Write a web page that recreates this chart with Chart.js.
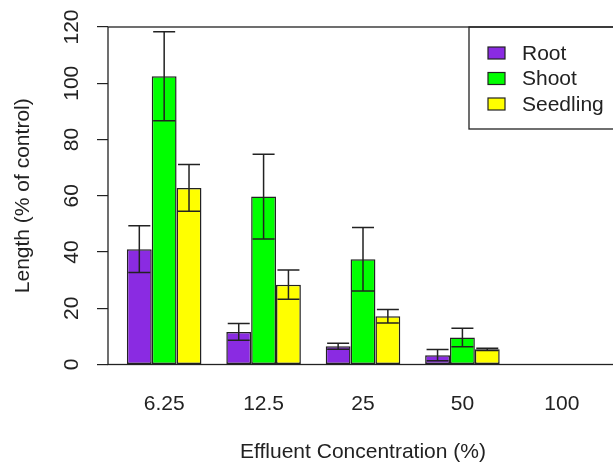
<!DOCTYPE html>
<html>
<head>
<meta charset="utf-8">
<script src="https://cdn.jsdelivr.net/npm/chart.js@4/dist/chart.umd.min.js"></script>
<style>
  html, body { margin: 0; padding: 0; background: #fff; overflow: hidden; }
  .wrap { width: 613px; height: 465px; overflow: hidden; }
  .box { position: relative; width: 625px; height: 465px; }
</style>
</head>
<body>
<div class="wrap"><div class="box"><canvas id="lengthChart"></canvas></div></div>
<script>
const categories = ["6.25", "12.5", "25", "50", "100"];
const seriesNames = ["Root", "Shoot", "Seedling"];
const rootMean = [41.0, 11.6, 6.5, 3.3, 0];
const rootErr = [8.3, 3.0, 1.1, 2.0, 0];
const shootMean = [102.5, 59.7, 37.4, 9.6, 0];
const shootErr = [15.8, 15.1, 11.3, 3.3, 0];
const seedlingMean = [62.8, 28.4, 17.2, 5.4, 0];
const seedlingErr = [8.3, 5.2, 2.4, 0.4, 0];
const yTicks = [0, 20, 40, 60, 80, 100, 120];

const colors = ["#8a2be2", "#00ff00", "#ffff00"];
const ink = "#222";
const fontFamily = "'Liberation Sans', Arial, sans-serif";

// R barplot layout: 3 bars per group, one bar-width gap before each group
const groupPos = categories.map((_, i) => 2.5 + 4 * i);
const means = [rootMean, shootMean, seedlingMean];
const errs = [rootErr, shootErr, seedlingErr];

const datasets = seriesNames.map((name, s) => ({
  label: name,
  data: means[s].map((v, i) => ({ x: groupPos[i], y: v })),
  errors: errs[s],
  backgroundColor: colors[s],
  borderColor: ink,
  borderWidth: 1.5,
  borderSkipped: false,
}));

const framePlugin = {
  id: "frame",
  afterDraw(chart) {
    const { ctx, chartArea } = chart;
    ctx.save();
    ctx.strokeStyle = ink;
    ctx.lineWidth = 1.3;
    ctx.strokeRect(chartArea.left, chartArea.top, chartArea.right - chartArea.left, chartArea.bottom - chartArea.top);
    ctx.restore();
  },
};

const errorBars = {
  id: "errorBars",
  afterDatasetsDraw(chart) {
    const { ctx } = chart;
    const y = chart.scales.y;
    ctx.save();
    ctx.strokeStyle = ink;
    ctx.lineWidth = 1.5;
    chart.data.datasets.forEach((ds, s) => {
      chart.getDatasetMeta(s).data.forEach((bar, i) => {
        const e = ds.errors[i];
        if (!e) return;
        const v = ds.data[i].y;
        const top = y.getPixelForValue(v + e);
        const bottom = y.getPixelForValue(v - e);
        const half = 11;
        ctx.beginPath();
        ctx.moveTo(bar.x, top);
        ctx.lineTo(bar.x, bottom);
        ctx.moveTo(bar.x - half, top);
        ctx.lineTo(bar.x + half, top);
        ctx.moveTo(bar.x - half, bottom);
        ctx.lineTo(bar.x + half, bottom);
        ctx.stroke();
      });
    });
    ctx.restore();
  },
};

const legendBox = {
  id: "legendBox",
  afterDraw(chart) {
    const { ctx, chartArea } = chart;
    const left = 469;
    const top = chartArea.top;
    ctx.save();
    ctx.strokeStyle = ink;
    ctx.lineWidth = 1.3;
    ctx.strokeRect(left, top, 200, 102);
    ctx.font = "21px " + fontFamily;
    ctx.textBaseline = "middle";
    ctx.fillStyle = ink;
    chart.data.datasets.forEach((ds, s) => {
      const cy = top + 26 + s * 25.5;
      ctx.fillStyle = ds.backgroundColor;
      ctx.fillRect(left + 19, cy - 6, 17, 12);
      ctx.lineWidth = 1.2;
      ctx.strokeRect(left + 19, cy - 6, 17, 12);
      ctx.fillStyle = ink;
      ctx.fillText(ds.label, left + 53, cy + 1);
    });
    ctx.restore();
  },
};

new Chart(document.getElementById("lengthChart"), {
  type: "bar",
  data: { datasets },
  plugins: [framePlugin, errorBars, legendBox],
  options: {
    responsive: true,
    maintainAspectRatio: false,
    animation: false,
    categoryPercentage: 0.75,
    barPercentage: 1,
    layout: { padding: { top: 27, right: 7, left: 0, bottom: 0 } },
    plugins: { legend: { display: false }, tooltip: { enabled: false } },
    scales: {
      x: {
        type: "linear",
        min: 0.24,
        max: 20.76,
        offset: false,
        grid: { display: false, drawTicks: false, offset: false },
        border: { display: false },
        afterBuildTicks(scale) {
          scale.ticks = groupPos.map((v) => ({ value: v }));
        },
        afterFit(scale) {
          scale.height = 100.5;
        },
        ticks: {
          autoSkip: false,
          maxRotation: 0,
          padding: 27,
          color: ink,
          font: { family: fontFamily, size: 21 },
          callback(value, index) {
            return categories[index];
          },
        },
        title: {
          display: true,
          text: "Effluent Concentration (%)",
          color: ink,
          font: { family: fontFamily, size: 21 },
          padding: { top: 0, bottom: 0 },
        },
      },
      y: {
        min: 0,
        max: 120,
        afterBuildTicks(scale) {
          scale.ticks = yTicks.map((v) => ({ value: v }));
        },
        afterFit(scale) {
          scale.width = 108;
        },
        grid: { drawOnChartArea: false, drawTicks: true, tickLength: 11, color: ink, lineWidth: 1.2 },
        border: { display: false },
        ticks: {
          minRotation: 90,
          maxRotation: 90,
          crossAlign: "center",
          padding: 7.5,
          color: ink,
          font: { family: fontFamily, size: 21 },
        },
        title: {
          display: true,
          text: "Length (% of control)",
          color: ink,
          font: { family: fontFamily, size: 21 },
          padding: { top: 11, bottom: 0 },
        },
      },
    },
  },
});
</script>
</body>
</html>
